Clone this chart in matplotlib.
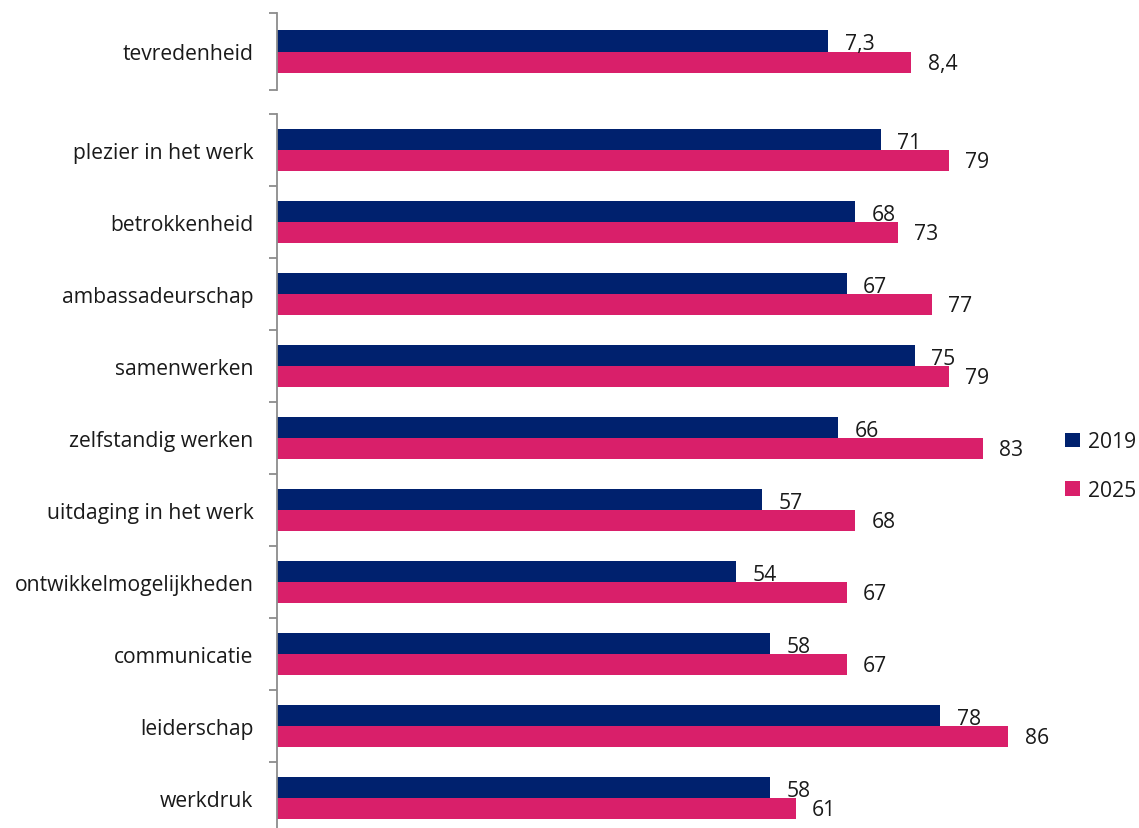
import numpy as np
import matplotlib.pyplot as plt

# data
top_cat = ['tevredenheid']
top_2019 = [7.3]
top_2025 = [8.4]

categories = ['plezier in het werk', 'betrokkenheid', 'ambassadeurschap', 'samenwerken',
              'zelfstandig werken', 'uitdaging in het werk', 'ontwikkelmogelijkheden',
              'communicatie', 'leiderschap', 'werkdruk']
vals_2019 = [71, 68, 67, 75, 66, 57, 54, 58, 78, 58]
vals_2025 = [79, 73, 77, 79, 83, 68, 67, 67, 86, 61]

navy = '#00216E'
pink = '#D91F6A'
spine_col = '#8C8C8C'
txt = '#1A1A1A'

plt.rcParams['font.family'] = ['Open Sans', 'DejaVu Sans']
fs = 15.2

fig = plt.figure(figsize=(11.39, 8.29), dpi=100)
W, H = 1139, 829
x0, x1 = 277, 1127
ax_top = fig.add_axes([x0 / W, (H - 91) / H, (x1 - x0) / W, 77 / H])
ax_bot = fig.add_axes([x0 / W, (H - 835) / H, (x1 - x0) / W, 720 / H])

bh = 0.285


def draw(ax, cats, a, b, xmax, fmt):
    n = len(cats)
    y = np.arange(n)
    ax.barh(y - bh / 2, a, height=bh, color=navy, label='2019')
    ax.barh(y + bh / 2, b, height=bh, color=pink, label='2025')
    for yi, v in zip(y, a):
        ax.annotate(fmt(v), (v, yi - bh / 2), xytext=(12, -2), textcoords='offset points',
                    va='center', ha='left', fontsize=fs, color=txt)
    for yi, v in zip(y, b):
        ax.annotate(fmt(v), (v, yi + bh / 2), xytext=(12, -1), textcoords='offset points',
                    va='center', ha='left', fontsize=fs, color=txt)
    ax.set_xlim(0, xmax)
    ax.set_ylim(n - 0.5, -0.5)
    ax.set_yticks(y)
    ax.set_yticklabels(cats, fontsize=fs, color=txt)
    ax.tick_params(axis='y', which='major', length=0, pad=17)
    ax.set_yticks(np.arange(n + 1) - 0.5, minor=True)
    ax.tick_params(axis='y', which='minor', length=5.5, width=1.3, color=spine_col)
    ax.set_xticks([])
    for s in ['top', 'right', 'bottom']:
        ax.spines[s].set_visible(False)
    ax.spines['left'].set_color(spine_col)
    ax.spines['left'].set_linewidth(1.3)


draw(ax_top, top_cat, top_2019, top_2025, 11.26, lambda v: f'{v:.1f}'.replace('.', ','))
draw(ax_bot, categories, vals_2019, vals_2025, 100, lambda v: f'{v:d}')

handles, labels = ax_bot.get_legend_handles_labels()
fig.legend(handles, labels, loc='center left', bbox_to_anchor=(1046 / W, 1 - 467 / H),
           frameon=False, fontsize=fs, handlelength=0.7, handleheight=0.7,
           handletextpad=0.4, labelspacing=1.3, labelcolor=txt)

fig.savefig('out.png', dpi=100)
